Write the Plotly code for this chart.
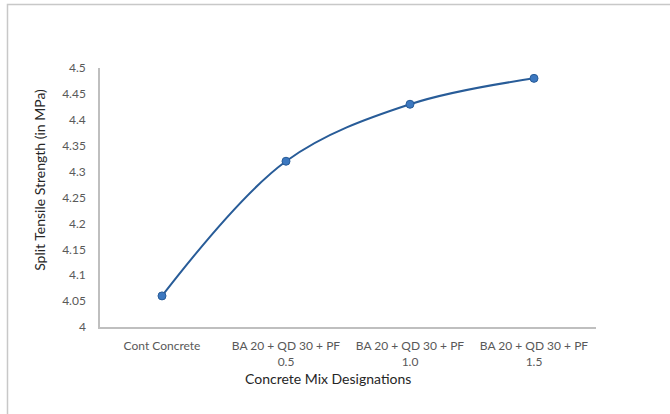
import plotly.graph_objects as go

# Concrete mix designations and their split tensile strength (MPa)
mixes = [
    "Cont Concrete",
    "BA 20 + QD 30 + PF<br>0.5",
    "BA 20 + QD 30 + PF<br>1.0",
    "BA 20 + QD 30 + PF<br>1.5",
]
strength = [4.06, 4.32, 4.43, 4.48]

y_ticks = [4, 4.05, 4.1, 4.15, 4.2, 4.25, 4.3, 4.35, 4.4, 4.45, 4.5]
y_tick_text = ["4", "4.05", "4.1", "4.15", "4.2", "4.25", "4.3", "4.35", "4.4", "4.45", "4.5"]

FONT = "Lato, 'Open Sans', sans-serif"
AXIS_GRAY = "#bfbfbf"
LABEL_GRAY = "#595959"

fig = go.Figure()
fig.add_trace(
    go.Scatter(
        x=list(range(len(mixes))),
        y=strength,
        mode="lines+markers",
        line=dict(color="#285c98", width=2, shape="spline", smoothing=1),
        marker=dict(size=8, color="#3c78c0", line=dict(color="#285c98", width=1)),
        showlegend=False,
    )
)

fig.update_layout(
    width=670,
    height=414,
    margin=dict(l=100, r=74, t=68, b=87),
    paper_bgcolor="white",
    plot_bgcolor="white",
    font=dict(family=FONT, size=12, color=LABEL_GRAY),
    xaxis=dict(
        range=[-0.5, 3.5],
        tickmode="array",
        tickvals=list(range(len(mixes))),
        ticktext=mixes,
        showline=True,
        linecolor=AXIS_GRAY,
        linewidth=1.5,
        showgrid=False,
        zeroline=False,
        ticks="",
        ticklabelstandoff=7,
        tickfont=dict(family=FONT, size=12, color=LABEL_GRAY),
    ),
    yaxis=dict(
        range=[4, 4.5],
        tickmode="array",
        tickvals=y_ticks,
        ticktext=y_tick_text,
        showline=True,
        linecolor=AXIS_GRAY,
        linewidth=1.5,
        showgrid=False,
        zeroline=False,
        ticks="",
        ticklabelstandoff=10,
        tickfont=dict(family=FONT, size=12, color=LABEL_GRAY),
    ),
    annotations=[
        dict(
            text="Concrete Mix Designations",
            xref="paper", yref="paper",
            x=0.46, y=-0.2,
            xanchor="center", yanchor="middle",
            showarrow=False,
            font=dict(family=FONT, size=14, color="#262626"),
        ),
        dict(
            text="Split Tensile Strength (in MPa)",
            xref="paper", yref="paper",
            x=-0.121, y=0.568,
            xanchor="center", yanchor="middle",
            textangle=-90,
            showarrow=False,
            font=dict(family=FONT, size=14, color="#262626"),
        ),
    ],
    shapes=[
        # outer chart-area frame (top and left edges visible)
        dict(
            type="rect", xref="paper", yref="paper",
            x0=-0.1865, x1=1.3, y0=-0.5, y1=1.245,
            line=dict(color="#c8c8c8", width=1.5),
            fillcolor="rgba(0,0,0,0)",
            layer="below",
        ),
    ],
)

fig.write_html("out.html")
